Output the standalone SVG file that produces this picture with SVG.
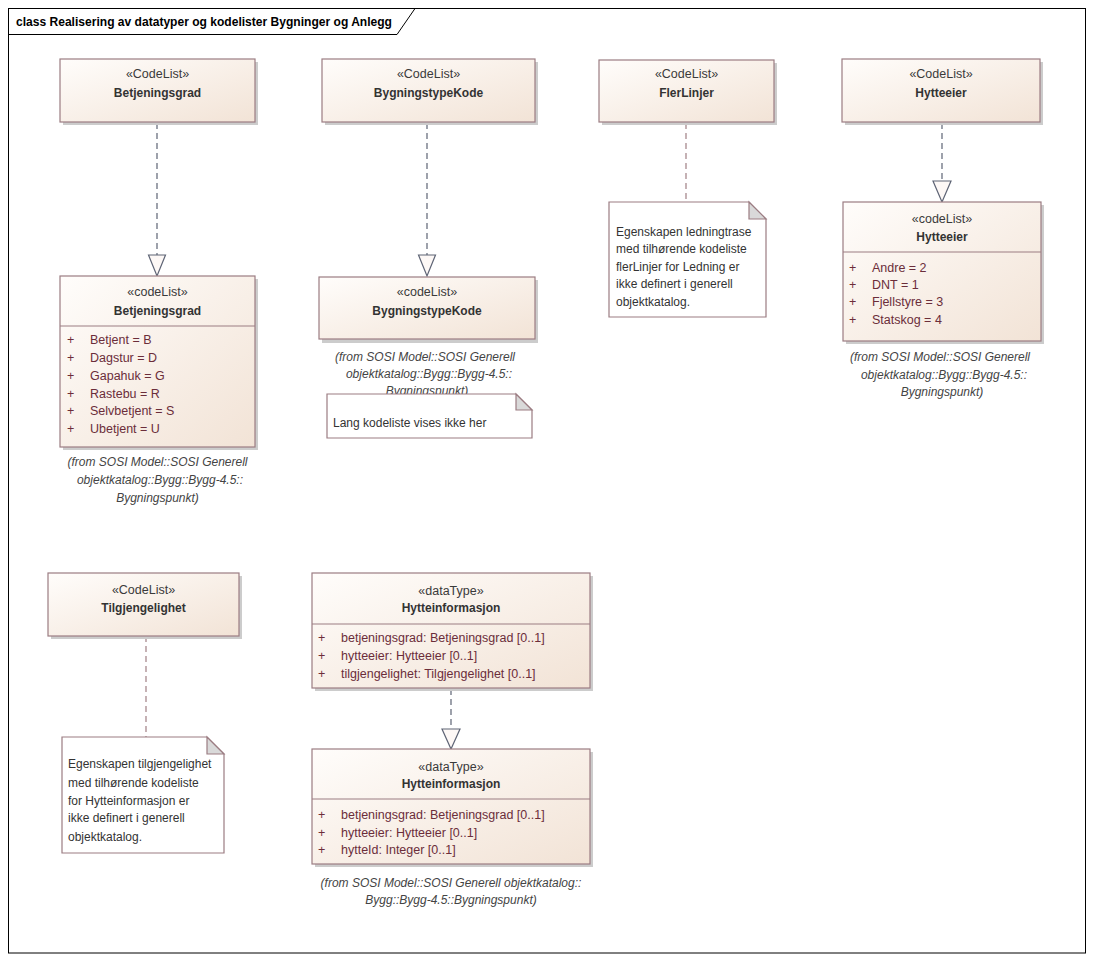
<svg xmlns="http://www.w3.org/2000/svg" width="1093" height="961" viewBox="0 0 1093 961">
<defs>
<linearGradient id="g" x1="0" y1="0" x2="1" y2="1">
<stop offset="0" stop-color="#fffdfb"/>
<stop offset="1" stop-color="#f2e3d6"/>
</linearGradient>
<style>
.box{fill:url(#g);stroke:#9b7c82;stroke-width:1.2}
.sh{fill:#cccccc}
.div{stroke:#9b7c82;stroke-width:1}
.st{font-family:"Liberation Sans",Arial,sans-serif;font-size:12.5px;fill:#3a3a3a;text-anchor:middle}
.nm{font-family:"Liberation Sans",Arial,sans-serif;font-size:12px;font-weight:bold;fill:#333;text-anchor:middle}
.at{font-family:"Liberation Sans",Arial,sans-serif;font-size:12.5px;fill:#6b2d3a}
.fr{font-family:"Liberation Sans",Arial,sans-serif;font-size:12px;font-style:italic;fill:#444;text-anchor:middle}
.nt{font-family:"Liberation Sans",Arial,sans-serif;font-size:12px;fill:#333}
.note{fill:#fff;stroke:#9b7c82;stroke-width:1.2}
.fold{fill:#d9d9d9;stroke:#9b7c82;stroke-width:1.2}
.real{stroke:#5e6475;stroke-width:1.2;stroke-dasharray:6,4;fill:none}
.tri{fill:#fdf8f6;stroke:#5e6475;stroke-width:1.2}
.anc{stroke:#a07f84;stroke-width:1.2;stroke-dasharray:6,4;fill:none}
</style>
</defs>
<rect width="1093" height="961" fill="#fff"/>
<g id="frame">
<rect x="8.5" y="8.5" width="1077" height="944.5" fill="none" stroke="#000" stroke-width="1"/>
<path d="M8.5 34.5 H397 L415 8.5" fill="none" stroke="#000" stroke-width="1"/>
<text x="16" y="26" font-family="Liberation Sans,Arial,sans-serif" font-size="12.5" font-weight="bold" fill="#000" textLength="376" lengthAdjust="spacingAndGlyphs">class Realisering av datatyper og kodelister Bygninger og Anlegg</text>
</g>
<g id="connectors">
<line class="real" x1="157" y1="123" x2="157" y2="255"/>
<path class="tri" d="M148.5 255 L165.5 255 L157 276 Z"/>
<line class="real" x1="427" y1="123" x2="427" y2="255"/>
<path class="tri" d="M418.5 255 L435.5 255 L427 276 Z"/>
<line class="real" x1="942" y1="123" x2="942" y2="181"/>
<path class="tri" d="M933 181 L951 181 L942 202 Z"/>
<line class="real" x1="451" y1="689" x2="451" y2="729"/>
<path class="tri" d="M442 729 L460 729 L451 749 Z"/>
<line class="anc" x1="686" y1="123" x2="686" y2="202"/>
<line class="anc" x1="146" y1="636" x2="146" y2="737"/>
</g>
<g id="n1">
<rect class="sh" x="63" y="62" width="195" height="63"/>
<rect class="box" x="60" y="59" width="195" height="63"/>
<text class="st" x="157.5" y="78">«CodeList»</text>
<text class="nm" x="157.5" y="97">Betjeningsgrad</text>
</g>
<g id="n2">
<rect class="sh" x="63" y="279" width="195" height="171"/>
<rect class="box" x="60" y="276" width="195" height="171"/>
<text class="st" x="157.5" y="296">«codeList»</text>
<text class="nm" x="157.5" y="315">Betjeningsgrad</text>
<line class="div" x1="60" y1="326" x2="255" y2="326"/>
<text class="at" x="67" y="344">+</text><text class="at" x="90" y="344">Betjent = B</text>
<text class="at" x="67" y="362">+</text><text class="at" x="90" y="362">Dagstur = D</text>
<text class="at" x="67" y="380">+</text><text class="at" x="90" y="380">Gapahuk = G</text>
<text class="at" x="67" y="398">+</text><text class="at" x="90" y="398">Rastebu = R</text>
<text class="at" x="67" y="415">+</text><text class="at" x="90" y="415">Selvbetjent = S</text>
<text class="at" x="67" y="433">+</text><text class="at" x="90" y="433">Ubetjent = U</text>
<text class="fr" x="157.5" y="466">(from SOSI Model::SOSI Generell</text>
<text class="fr" x="160" y="484">objektkatalog::Bygg::Bygg-4.5::</text>
<text class="fr" x="157.5" y="502">Bygningspunkt)</text>
</g>
<g id="n3">
<rect class="sh" x="325" y="62" width="213" height="63"/>
<rect class="box" x="322" y="59" width="213" height="63"/>
<text class="st" x="428.5" y="78">«CodeList»</text>
<text class="nm" x="428.5" y="97">BygningstypeKode</text>
</g>
<g id="n4">
<rect class="sh" x="322" y="280" width="216" height="63"/>
<rect class="box" x="319" y="277" width="216" height="62"/>
<text class="st" x="427" y="296">«codeList»</text>
<text class="nm" x="427" y="315">BygningstypeKode</text>
<text class="fr" x="425" y="361">(from SOSI Model::SOSI Generell</text>
<text class="fr" x="429" y="378">objektkatalog::Bygg::Bygg-4.5::</text>
<text class="fr" x="427" y="395">Bygningspunkt)</text>
</g>
<g id="note1">
<path class="note" d="M327 394 H516 L532 410 V438 H327 Z"/>
<path class="fold" d="M516 394 V410 H532 Z"/>
<text class="nt" x="333" y="427">Lang kodeliste vises ikke her</text>
</g>
<g id="n5">
<rect class="sh" x="602" y="63" width="175" height="62"/>
<rect class="box" x="599" y="60" width="175" height="62"/>
<text class="st" x="686.5" y="78">«CodeList»</text>
<text class="nm" x="686.5" y="97">FlerLinjer</text>
</g>
<g id="note2">
<path class="note" d="M609 202 H749 L766 219 V317 H609 Z"/>
<path class="fold" d="M749 202 V219 H766 Z"/>
<text class="nt" x="616" y="236">Egenskapen ledningtrase</text>
<text class="nt" x="616" y="253">med tilhørende kodeliste</text>
<text class="nt" x="616" y="271">flerLinjer for Ledning er</text>
<text class="nt" x="616" y="288">ikke definert i generell</text>
<text class="nt" x="616" y="306">objektkatalog.</text>
</g>
<g id="n6">
<rect class="sh" x="845" y="62" width="198" height="63"/>
<rect class="box" x="842" y="59" width="198" height="63"/>
<text class="st" x="941" y="78">«CodeList»</text>
<text class="nm" x="941" y="97">Hytteeier</text>
</g>
<g id="n7">
<rect class="sh" x="846" y="205" width="198" height="139"/>
<rect class="box" x="843" y="202" width="198" height="139"/>
<text class="st" x="942" y="223">«codeList»</text>
<text class="nm" x="942" y="241">Hytteeier</text>
<line class="div" x1="843" y1="252" x2="1041" y2="252"/>
<text class="at" x="849" y="272">+</text><text class="at" x="872" y="272">Andre = 2</text>
<text class="at" x="849" y="289">+</text><text class="at" x="872" y="289">DNT = 1</text>
<text class="at" x="849" y="306">+</text><text class="at" x="872" y="306">Fjellstyre = 3</text>
<text class="at" x="849" y="324">+</text><text class="at" x="872" y="324">Statskog = 4</text>
<text class="fr" x="940" y="361">(from SOSI Model::SOSI Generell</text>
<text class="fr" x="944" y="379">objektkatalog::Bygg::Bygg-4.5::</text>
<text class="fr" x="942" y="396">Bygningspunkt)</text>
</g>
<g id="n8">
<rect class="sh" x="51" y="576" width="191" height="63"/>
<rect class="box" x="48" y="573" width="191" height="63"/>
<text class="st" x="143.5" y="594">«CodeList»</text>
<text class="nm" x="143.5" y="612">Tilgjengelighet</text>
</g>
<g id="note3">
<path class="note" d="M62 737 H207 L224 754 V853 H62 Z"/>
<path class="fold" d="M207 737 V754 H224 Z"/>
<text class="nt" x="68" y="768">Egenskapen tilgjengelighet</text>
<text class="nt" x="68" y="787">med tilhørende kodeliste</text>
<text class="nt" x="68" y="805">for Hytteinformasjon er</text>
<text class="nt" x="68" y="822">ikke definert i generell</text>
<text class="nt" x="68" y="841">objektkatalog.</text>
</g>
<g id="n9">
<rect class="sh" x="315" y="576" width="278" height="115"/>
<rect class="box" x="312" y="573" width="278" height="115"/>
<text class="st" x="451" y="595">«dataType»</text>
<text class="nm" x="451" y="612">Hytteinformasjon</text>
<line class="div" x1="312" y1="624" x2="590" y2="624"/>
<text class="at" x="318" y="642">+</text><text class="at" x="341" y="642">betjeningsgrad: Betjeningsgrad [0..1]</text>
<text class="at" x="318" y="660">+</text><text class="at" x="341" y="660">hytteeier: Hytteeier [0..1]</text>
<text class="at" x="318" y="678">+</text><text class="at" x="341" y="678">tilgjengelighet: Tilgjengelighet [0..1]</text>
</g>
<g id="n10">
<rect class="sh" x="315" y="752" width="278" height="115"/>
<rect class="box" x="312" y="749" width="278" height="115"/>
<text class="st" x="451" y="771">«dataType»</text>
<text class="nm" x="451" y="788">Hytteinformasjon</text>
<line class="div" x1="312" y1="799" x2="590" y2="799"/>
<text class="at" x="318" y="819">+</text><text class="at" x="341" y="819">betjeningsgrad: Betjeningsgrad [0..1]</text>
<text class="at" x="318" y="837">+</text><text class="at" x="341" y="837">hytteeier: Hytteeier [0..1]</text>
<text class="at" x="318" y="854">+</text><text class="at" x="341" y="854">hytteId: Integer [0..1]</text>
<text class="fr" x="451" y="887">(from SOSI Model::SOSI Generell objektkatalog::</text>
<text class="fr" x="451" y="904">Bygg::Bygg-4.5::Bygningspunkt)</text>
</g>
</svg>
